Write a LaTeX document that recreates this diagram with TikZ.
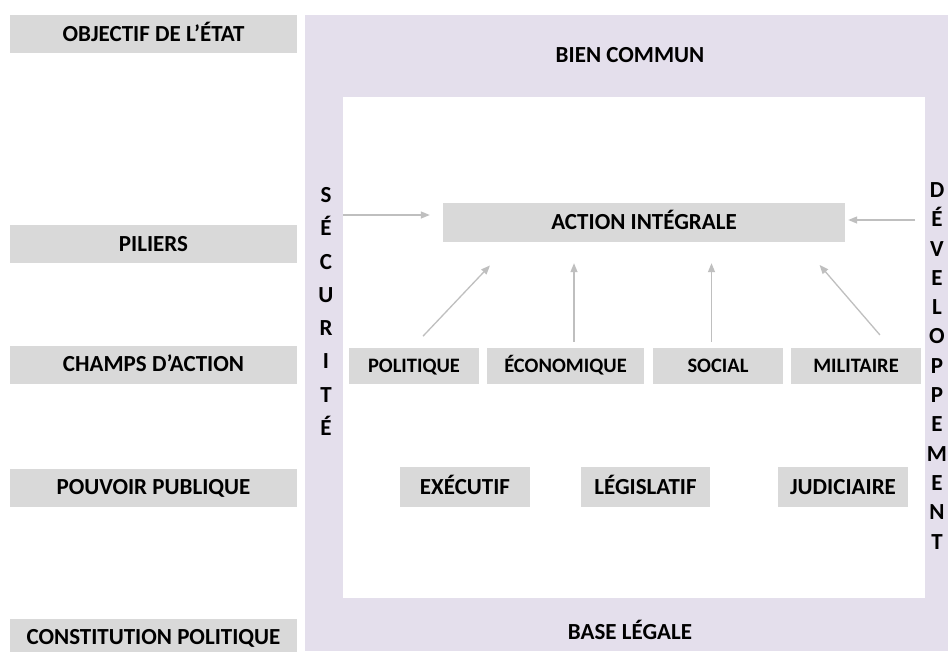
\documentclass[tikz,border=0pt]{standalone}
\usepackage{fontspec}
\setmainfont{Carlito}
\usetikzlibrary{arrows.meta}
\definecolor{boxgray}{HTML}{D9D9D9}
\definecolor{panel}{HTML}{E4DFEC}
\definecolor{arrowgray}{HTML}{BFBFBF}
\begin{document}
\begin{tikzpicture}[x=1pt, y=-1pt,
  every node/.style={font=\fontsize{23}{27}\selectfont\bfseries, text=black, inner sep=0pt,
    text height=14.8pt, text depth=0pt},
  graybox/.style={fill=boxgray, minimum height=38pt},
  rowlabel/.style={graybox, minimum width=287pt},
  fieldbox/.style={graybox, minimum height=36pt,
    font=\fontsize{20.5}{24}\selectfont\bfseries, text height=13.2pt},
  powerbox/.style={graybox, minimum height=40pt, minimum width=130pt},
  vletter/.style={anchor=base},
  arr/.style={draw=arrowgray, line width=1.3pt, -{Triangle[length=9pt,width=7pt]}}]
\useasboundingbox (0,0) rectangle (948,651);
\begin{scope}
\clip (0,0) rectangle (948,651);

% outer lavender panel and inner white field
\fill[panel] (305,15) rectangle (948,651);
\fill[white] (343,97) rectangle (925,598);

% left column of row labels
\node[rowlabel] (obj) at (153.5,34) {OBJECTIF DE L’ÉTAT};
\node[rowlabel] (pil) at (153.5,244) {PILIERS};
\node[rowlabel] (cha) at (153.5,364.5) {CHAMPS D’ACTION};
\node[rowlabel] (pou) at (153.5,487.5) {POUVOIR PUBLIQUE};
\node[rowlabel] (con) at (153.5,637.5) {CONSTITUTION POLITIQUE};

% panel captions
\node (bien) at (630,55) {BIEN COMMUN};
\node (base) at (630,632) {BASE LÉGALE};

% central action box
\node[graybox, minimum width=402pt, minimum height=39pt] (act) at (644,222.5) {ACTION INTÉGRALE};

% fields of action
\node[fieldbox, minimum width=130pt] (pol) at (414,366) {POLITIQUE};
\node[fieldbox, minimum width=157pt] (eco) at (565.5,366) {ÉCONOMIQUE};
\node[fieldbox, minimum width=130pt] (soc) at (718,366) {SOCIAL};
\node[fieldbox, minimum width=130pt] (mil) at (856,366) {MILITAIRE};

% public powers
\node[powerbox] (exe) at (465,487) {EXÉCUTIF};
\node[powerbox, minimum width=129pt] (leg) at (645.5,487) {LÉGISLATIF};
\node[powerbox] (jud) at (843,487) {JUDICIAIRE};

% vertical pillar words
\foreach \ch [count=\i from 0] in {S,É,C,U,R,I,T,É}
  \node[vletter] (sec\i) at (326,{202.4+33.3*\i}) {\ch};
\foreach \ch [count=\i from 0] in {D,É,V,E,L,O,P,P,E,M,E,N,T}
  \node[vletter] (dev\i) at (937,{197.4+29.3*\i}) {\ch};

% pillar arrows into the action box
\coordinate (secin) at (343,215);
\coordinate (devin) at (915,220);
\draw[arr, shorten >=13pt] (secin) -- (act.west |- secin);
\draw[arr, shorten >=3pt] (devin) -- (act.east |- devin);

% field arrows into the action box
\draw[arr, shorten <=16pt, shorten >=32pt] ([xshift=-2pt]pol.north) -- ([xshift=-132pt]act.south);
\draw[arr, shorten <=6pt, shorten >=21pt] ([xshift=8.5pt]eco.north) -- ([xshift=8.5pt]eco.north |- act.south);
\draw[arr, shorten <=6pt, shorten >=21pt] ([xshift=-6.5pt]soc.north) -- ([xshift=-6.5pt]soc.north |- act.south);
\draw[arr, shorten <=17pt, shorten >=30pt] ([xshift=35pt]mil.north) -- ([xshift=156pt]act.south);
\end{scope}
\end{tikzpicture}
\end{document}
